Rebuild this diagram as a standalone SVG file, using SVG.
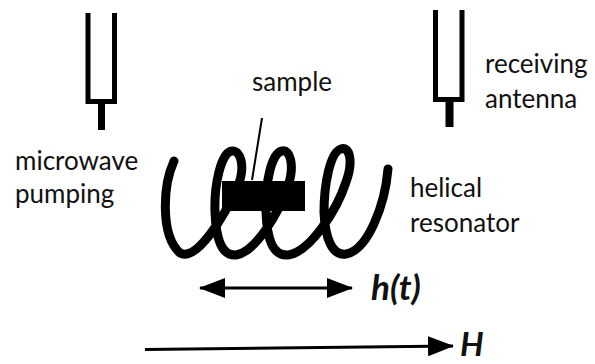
<svg xmlns="http://www.w3.org/2000/svg" width="595" height="364" viewBox="0 0 595 364">
  <style>
    .label { font-family: "Lato", "Liberation Sans", sans-serif; font-size: 26px; fill: #111; }
    .sym { font-family: "Lato", "Liberation Sans", sans-serif; font-weight: bold; font-style: italic; fill: #111; }
    .ant { fill: none; stroke: #000; stroke-width: 5; stroke-linejoin: miter; }
    .coil { fill: none; stroke: #000; stroke-width: 9; stroke-linecap: round; stroke-linejoin: round; }
    .shaft { stroke: #000; stroke-width: 3; fill: none; }
  </style>
  <defs>
    <marker id="head" viewBox="0 0 26 20" refX="25" refY="10" markerWidth="26" markerHeight="20" markerUnits="userSpaceOnUse" orient="auto-start-reverse">
      <path d="M0,0 L26,10 L0,20 Z" fill="#000"/>
    </marker>
  </defs>
  <rect width="595" height="364" fill="#fff"/>

  <!-- pumping antenna -->
  <g id="pump-antenna">
    <path class="ant" d="M88,13 V101.5 H114.5 V13"/>
    <rect x="98" y="101" width="7" height="29" fill="#000"/>
    <text class="label" x="15" y="170">microwave</text>
    <text class="label" x="15" y="203">pumping</text>
  </g>

  <!-- receiving antenna -->
  <g id="recv-antenna">
    <path class="ant" d="M435.5,10 V99.5 H462 V10"/>
    <rect x="445.5" y="99" width="8" height="28" fill="#000"/>
    <text class="label" x="485" y="73">receiving</text>
    <text class="label" x="485" y="108">antenna</text>
  </g>

  <!-- helical resonator -->
  <g id="resonator">
    <path class="coil" d="M174,161
      C163,185 160,235 180,253
      C197,262 225,215 238,186
      C246,165 240,150 232,151
      C221,152 214,185 215,212
      C216,240 222,256 236,255
      C255,252 278,215 288,186
      C295,165 290,149 282,151
      C271,153 265,185 266,212
      C267,240 273,256 288,255
      C310,252 337,210 346,182
      C354,160 349,146 341,149
      C330,152 324,185 324,212
      C325,238 332,256 346,254
      C368,250 385,205 388,169"/>
    <text class="label" x="410" y="197">helical</text>
    <text class="label" x="410" y="232">resonator</text>
  </g>

  <!-- sample -->
  <g id="sample">
    <rect x="222" y="181" width="83" height="30" fill="#000"/>
    <text class="label" x="252" y="91">sample</text>
  </g>

  <!-- field labels -->
  <g id="field-labels">
    <text class="sym" x="371" y="300" font-size="35">h(t)</text>
    <text class="sym" x="460" y="356" font-size="33">H</text>
  </g>

  <!-- connectors -->
  <g id="connectors">
    <line x1="262" y1="118" x2="252" y2="180" stroke="#000" stroke-width="2"/>
    <line class="shaft" x1="200" y1="288" x2="352" y2="288" marker-start="url(#head)" marker-end="url(#head)"/>
    <path class="shaft" d="M145,349.5 L453,346" marker-end="url(#head)"/>
  </g>
</svg>
